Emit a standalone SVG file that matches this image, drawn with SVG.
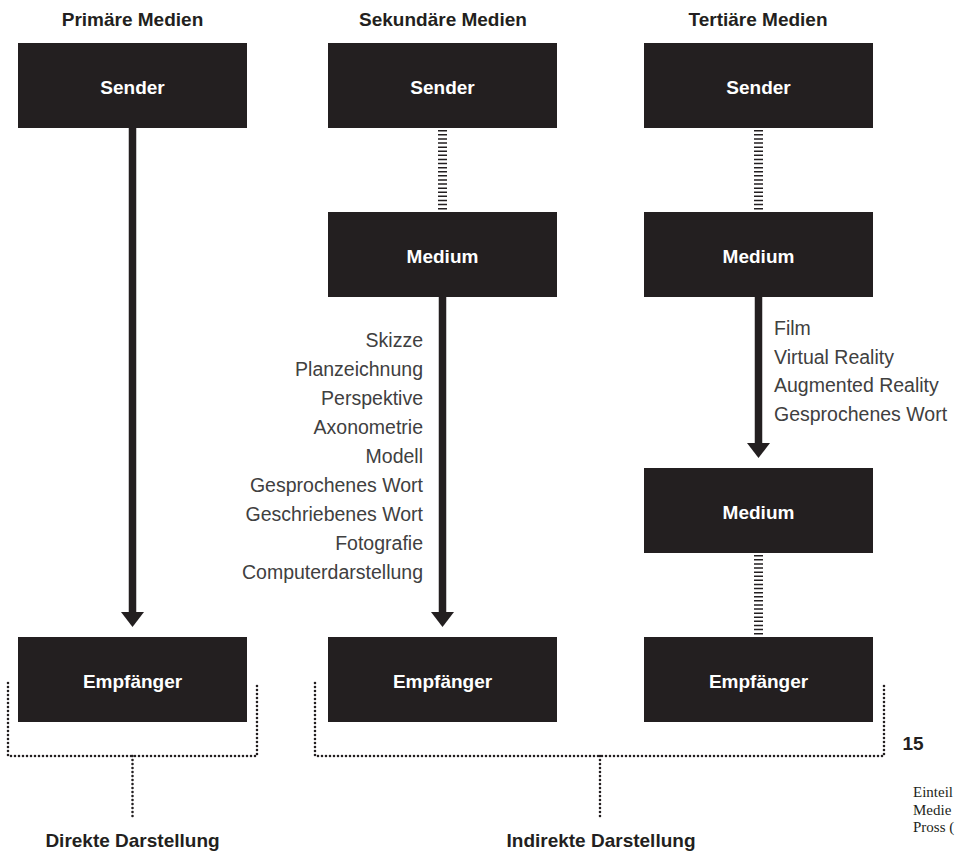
<svg xmlns="http://www.w3.org/2000/svg" width="962" height="856" viewBox="0 0 962 856">
<style>
.box{fill:#231f20}
.bt{font-family:"Liberation Sans",Arial,sans-serif;font-weight:bold;font-size:19px;fill:#ffffff;text-anchor:middle}
.hd{font-family:"Liberation Sans",Arial,sans-serif;font-weight:bold;font-size:19px;fill:#231f20;text-anchor:middle}
.lbl{font-family:"Liberation Sans",Arial,sans-serif;font-size:19.5px;fill:#404040}
.cap{font-family:"Liberation Serif","Times New Roman",serif;font-size:15px;fill:#231f20}
.arrow{stroke:#231f20;stroke-width:7.5;fill:none}
.head{fill:#231f20}
.tick{stroke:#231f20;stroke-width:9;stroke-dasharray:1.5 2.6;fill:none}
.dot{stroke:#231f20;stroke-width:2.6;stroke-dasharray:0 4;stroke-linecap:round;fill:none}
</style>
<rect width="962" height="856" fill="#ffffff"/>
<g id="headings">
<text class="hd" x="132.5" y="26">Primäre Medien</text>
<text class="hd" x="443" y="26">Sekundäre Medien</text>
<text class="hd" x="758" y="26">Tertiäre Medien</text>
</g>
<g id="connectors">
<line class="arrow" x1="132.5" y1="128" x2="132.5" y2="614"/>
<polygon class="head" points="121,612 144,612 132.5,627"/>
<line class="arrow" x1="442.5" y1="297" x2="442.5" y2="614"/>
<polygon class="head" points="431,612 454,612 442.5,627"/>
<line class="arrow" x1="758.5" y1="297" x2="758.5" y2="445"/>
<polygon class="head" points="747,443 770,443 758.5,458"/>
<line class="tick" x1="442.5" y1="130" x2="442.5" y2="212"/>
<line class="tick" x1="758.5" y1="130" x2="758.5" y2="212"/>
<line class="tick" x1="758.5" y1="555" x2="758.5" y2="637"/>
<path class="dot" d="M8 683 V756 H257 V683"/>
<path class="dot" d="M132.5 756 V818"/>
<path class="dot" d="M315 683 V756 H884 V683"/>
<path class="dot" d="M600 756 V818"/>
</g>
<g id="sender1"><rect class="box" x="18" y="43" width="229" height="85"/><text class="bt" x="132.5" y="94">Sender</text></g>
<g id="empfaenger1"><rect class="box" x="18" y="637" width="229" height="85"/><text class="bt" x="132.5" y="688">Empfänger</text></g>
<g id="sender2"><rect class="box" x="328" y="43" width="229" height="85"/><text class="bt" x="442.5" y="94">Sender</text></g>
<g id="medium2"><rect class="box" x="328" y="212" width="229" height="85"/><text class="bt" x="442.5" y="263">Medium</text></g>
<g id="empfaenger2"><rect class="box" x="328" y="637" width="229" height="85"/><text class="bt" x="442.5" y="688">Empfänger</text></g>
<g id="sender3"><rect class="box" x="644" y="43" width="229" height="85"/><text class="bt" x="758.5" y="94">Sender</text></g>
<g id="medium3a"><rect class="box" x="644" y="212" width="229" height="85"/><text class="bt" x="758.5" y="263">Medium</text></g>
<g id="medium3b"><rect class="box" x="644" y="468" width="229" height="85"/><text class="bt" x="758.5" y="519">Medium</text></g>
<g id="empfaenger3"><rect class="box" x="644" y="637" width="229" height="85"/><text class="bt" x="758.5" y="688">Empfänger</text></g>
<g id="labels-sekundaer" text-anchor="end">
<text class="lbl" x="423" y="347">Skizze</text>
<text class="lbl" x="423" y="376">Planzeichnung</text>
<text class="lbl" x="423" y="405">Perspektive</text>
<text class="lbl" x="423" y="434">Axonometrie</text>
<text class="lbl" x="423" y="463">Modell</text>
<text class="lbl" x="423" y="492">Gesprochenes Wort</text>
<text class="lbl" x="423" y="521">Geschriebenes Wort</text>
<text class="lbl" x="423" y="550">Fotografie</text>
<text class="lbl" x="423" y="579">Computerdarstellung</text>
</g>
<g id="labels-tertiaer">
<text class="lbl" x="774" y="335">Film</text>
<text class="lbl" x="774" y="363.5">Virtual Reality</text>
<text class="lbl" x="774" y="392">Augmented Reality</text>
<text class="lbl" x="774" y="420.5">Gesprochenes Wort</text>
</g>
<g id="bottom-labels">
<text class="hd" x="132.5" y="847">Direkte Darstellung</text>
<text class="hd" x="601" y="847">Indirekte Darstellung</text>
</g>
<g id="caption">
<text class="hd" x="913" y="750" text-anchor="start">15</text>
<text class="cap" x="913" y="797">Einteil</text>
<text class="cap" x="913" y="814.5">Medie</text>
<text class="cap" x="913" y="832">Pross (</text>
</g>
</svg>
